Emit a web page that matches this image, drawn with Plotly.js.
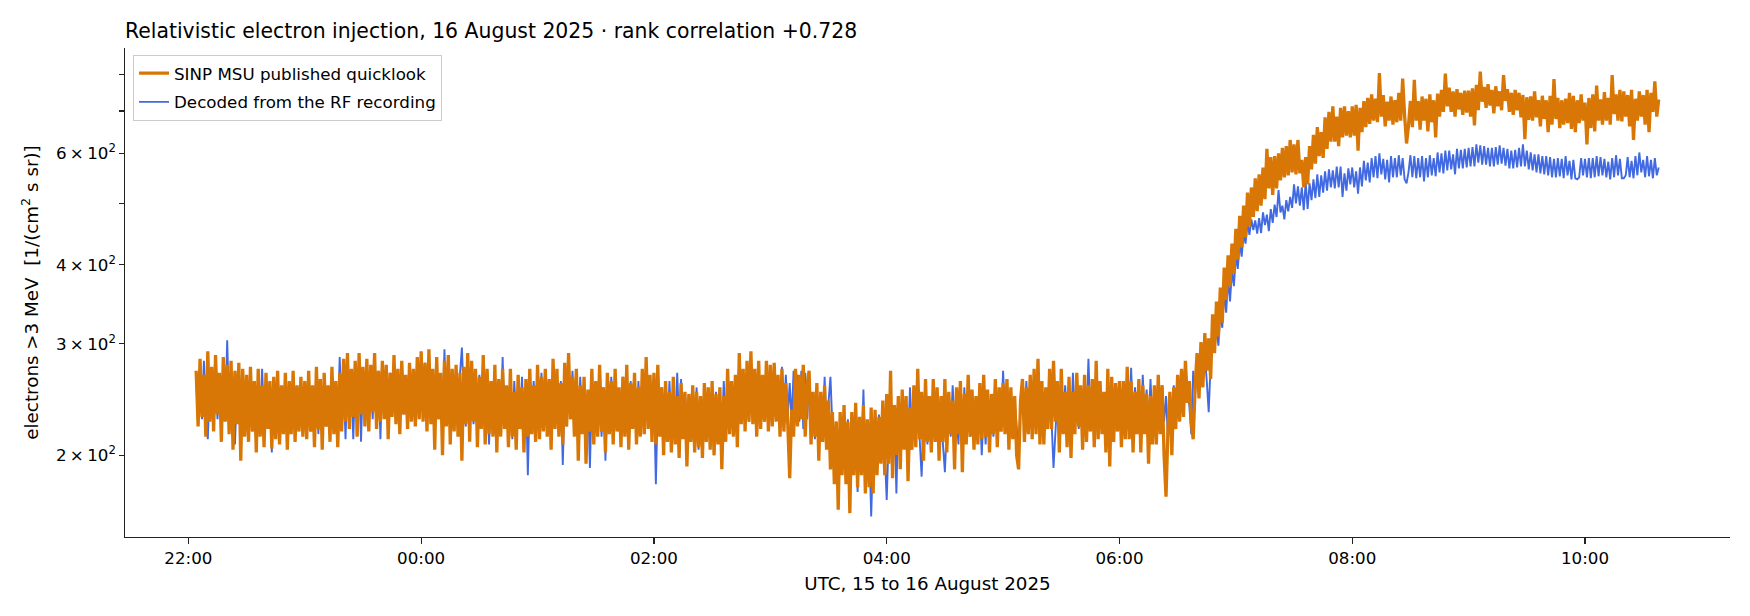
<!DOCTYPE html>
<html><head><meta charset="utf-8">
<script src="https://cdn.plot.ly/plotly-3.0.1.min.js"></script>
<style>html,body{margin:0;padding:0;background:#fff}#chart{width:1750px;height:616px}</style>
</head><body><div id="chart"></div>
<script>
// Sampling grid (UTC): one sample per minute, 22:04 .. 10:38
const startUTC = '2025-08-15T22:04:00Z';
const stepMinutes = 1;

// SINP MSU published quicklook, electrons >3 MeV
const sinpQuicklook = [
  272,222,284,230,268,214,292,226,276,218,288,232,270,210,286,226,278,216,282,204,272,224,280,196,274,214,
  268,210,276,218,262,202,274,214,258,206,270,220,262,205,266,212,272,208,258,216,270,204,262,216,272,210,258,218,266,214,
  262,212,272,218,258,206,276,220,264,204,270,222,258,210,276,216,262,206,270,218,
  284,226,290,220,274,230,282,214,290,232,276,222,284,218,278,234,290,220,272,226,282,228,278,212,270,230,288,224,274,216,282,232,268,220,280,226,274,222,286,228,
  292,226,280,218,294,224,274,204,286,228,270,200,282,222,288,208,274,218,278,214,270,196,276,224,290,210,282,226,274,206,266,220,288,208,274,216,262,214,278,202,
  264,214,274,220,258,206,274,214,252,204,268,220,256,202,264,214,274,216,258,210,
  278,212,266,218,274,214,264,204,284,220,274,214,260,208,280,222,290,228,266,214,274,196,258,216,266,194,254,218,274,208,
  262,214,278,218,256,202,270,216,262,208,274,218,256,206,266,214,278,204,260,220,270,208,256,214,274,216,286,220,268,210,
  270,208,278,214,256,200,262,210,252,202,266,208,248,198,260,212,252,192,250,210,258,202,252,206,248,198,260,210,256,204,
  262,200,250,208,256,190,248,210,274,216,262,214,268,206,290,224,274,218,282,226,292,224,274,214,282,220,268,226,282,218,
  278,222,280,226,268,214,274,218,260,224,184,236,214,274,222,268,228,278,214,258,272,208,252,214,260,196,252,210,258,204,
  244,190,234,180,226,164,234,186,240,180,226,162,234,186,242,178,230,186,240,174,228,178,238,174,236,186,230,194,244,186,
  250,194,272,184,240,200,248,190,254,204,248,182,238,204,258,206,274,212,252,196,264,210,248,202,264,210,256,196,248,210,
  264,202,252,216,244,190,256,216,262,188,250,208,268,214,254,204,248,208,260,212,268,214,254,202,250,216,264,206,256,218,
  260,216,264,204,256,212,248,200,190,244,264,210,256,216,268,212,274,216,284,208,262,208,256,220,274,220,282,226,262,202,
  274,216,252,206,266,198,252,216,270,222,258,204,268,210,258,218,264,206,282,212,262,216,252,202,274,192,266,210,260,218,
  262,206,262,212,276,212,262,202,252,216,264,202,258,216,250,194,248,208,258,208,268,216,258,200,172,220,252,200,256,220,
  268,226,274,230,282,242,262,226,212,256,290,246,302,256,312,272,306,264,334,290,350,308,368,324,396,352,414,370,432,388,
  456,408,478,426,496,442,520,460,530,476,548,486,556,496,570,508,610,528,592,516,594,528,600,544,612,550,616,554,630,560,
  620,556,630,558,586,530,592,536,616,566,642,578,660,594,648,590,684,610,698,626,712,626,686,616,708,636,712,640,700,636,
  712,640,716,606,708,648,726,660,734,668,744,676,732,672,804,686,742,662,724,676,738,666,728,672,748,676,788,688,622,664,
  726,660,784,676,726,654,738,676,732,650,744,672,728,636,746,686,756,698,802,712,762,698,752,686,758,704,748,690,754,696,
  754,686,760,664,770,702,808,724,764,708,772,714,756,694,766,712,752,702,798,726,758,698,748,690,756,702,748,684,742,632,
  736,678,738,676,752,684,728,662,740,680,728,648,740,666,786,680,734,658,728,666,732,670,748,656,740,648,728,670,744,676,
  722,620,734,658,744,650,768,676,730,666,750,676,734,666,798,692,744,676,756,674,752,686,742,662,756,630,732,676,752,686,
  742,666,756,648,748,698,780,686,730
];

// Decoded from the RF recording (same grid)
const decodedRF = [
  262,230,266,228,282,234,212,258,264,232,268,228,262,226,270,230,304,234,264,226,208,254,266,228,262,232,
  254,222,260,218,252,226,258,220,274,224,252,222,258,202,256,220,262,218,250,224,256,216,250,222,258,220,252,224,256,226,
  256,220,260,218,252,224,262,216,256,226,260,222,252,226,264,222,258,228,286,232,266,212,268,230,262,212,270,232,266,210,
  270,232,276,236,266,228,270,226,272,212,272,234,264,228,270,232,274,236,268,228,276,232,262,222,268,230,264,226,270,236,
  270,230,280,234,262,226,270,232,276,228,268,228,294,232,266,226,272,228,276,232,268,296,246,222,268,228,262,224,268,226,
  268,226,260,224,264,208,258,226,268,222,262,224,286,226,256,218,254,212,262,226,256,222,266,214,258,186,250,224,262,228,
  262,218,270,226,272,222,262,212,264,226,254,222,262,193,252,222,266,228,272,230,256,218,266,226,256,220,252,191,252,224,
  262,224,256,214,256,196,250,222,266,226,262,226,254,222,266,226,254,218,262,228,252,216,262,226,254,220,260,222,254,216,
  250,180,244,218,256,214,250,216,262,220,252,216,270,222,264,216,250,212,248,210,244,218,256,204,248,214,244,210,250,218,
  244,200,252,218,248,212,262,222,244,218,256,224,262,226,286,230,266,224,262,226,278,230,262,224,268,228,262,226,268,230,
  268,232,268,228,262,230,276,226,268,230,260,226,272,234,268,226,272,220,270,228,262,220,250,212,244,214,250,218,266,214,
  242,266,222,194,226,182,220,192,226,196,228,190,222,200,226,175,222,196,254,196,226,210,160,202,220,188,232,196,226,202,
  170,212,232,204,230,174,234,204,238,210,240,208,256,214,236,216,240,212,185,224,236,208,248,218,240,214,252,218,240,208,
  188,222,242,214,258,224,232,208,256,190,256,220,248,214,240,208,244,218,240,200,236,208,250,218,244,214,238,216,244,220,
  272,230,260,220,250,214,242,222,200,240,252,226,262,222,246,216,252,228,258,226,254,224,250,228,260,226,191,218,246,224,
  254,222,258,226,264,218,270,226,252,220,248,214,256,228,284,232,242,216,256,224,258,220,250,224,252,210,248,220,244,226,
  250,218,252,224,248,226,275,228,256,228,248,216,268,228,254,222,264,226,250,220,246,220,258,226,248,212,248,228,258,230,
  262,238,273,246,278,250,240,216,272,250,276,278,296,272,288,262,234,280,308,292,320,298,338,318,362,336,380,350,392,370,
  414,394,434,412,448,432,466,446,472,454,470,448,474,449,484,462,480,452,490,466,498,476,525,484,496,472,506,486,512,492,
  536,500,532,496,530,488,540,490,538,506,546,510,556,512,554,520,562,524,566,530,564,528,572,530,572,512,558,524,568,536,
  570,530,562,518,570,532,584,544,580,540,590,550,594,548,600,556,588,546,586,540,594,550,590,550,596,554,590,546,538,560,
  596,550,594,548,590,550,594,542,590,550,596,554,590,552,602,560,600,558,606,564,606,566,598,556,610,568,608,568,610,570,
  612,572,614,572,620,580,618,576,616,576,612,572,612,572,614,576,618,578,612,574,610,568,606,568,608,570,612,572,620,572,
  606,566,602,564,598,560,598,558,594,556,594,554,592,550,588,550,590,552,588,548,594,554,584,546,586,548,546,550,590,554,
  588,550,590,548,590,550,594,552,592,554,588,550,582,546,590,550,596,554,588,548,548,554,592,550,584,548,594,554,602,560,
  586,550,594,552,586,548,590,554,570
];

const seriesNames = ['SINP MSU published quicklook', 'Decoded from the RF recording'];
const yTickVals = [200, 300, 400, 500, 600, 700, 800];
const yTickText = ['2\u2009\u00d7\u200910<sup>2</sup>', '3\u2009\u00d7\u200910<sup>2</sup>', '4\u2009\u00d7\u200910<sup>2</sup>', '',
                   '6\u2009\u00d7\u200910<sup>2</sup>', '', ''];

const t0 = Date.parse(startUTC);
const timesFor = arr => arr.map((_, i) =>
  new Date(t0 + i * stepMinutes * 60000).toISOString().slice(0, 19).replace('T', ' '));

const FONT = 'DejaVu Sans, Liberation Sans, sans-serif';

const traces = [
  {x: timesFor(decodedRF), y: decodedRF, type: 'scatter', mode: 'lines', name: seriesNames[1],
   legendgroup: 'b', legendrank: 2,
   line: {color: '#4169e1', width: 1.9, simplify: false}, hoverinfo: 'skip'},
  {x: timesFor(sinpQuicklook), y: sinpQuicklook, type: 'scatter', mode: 'lines', name: seriesNames[0],
   legendgroup: 'a', legendrank: 1,
   line: {color: '#d97706', width: 3.3, simplify: false}, hoverinfo: 'skip'}
];

const layout = {
  width: 1750, height: 616,
  paper_bgcolor: '#ffffff', plot_bgcolor: '#ffffff',
  margin: {l: 125, r: 20, t: 48, b: 79, pad: 0},
  font: {family: FONT, color: '#000000', size: 16.7},
  title: {text: 'Relativistic electron injection, 16 August 2025 \u00b7 rank correlation +0.728',
          x: 125 / 1750, xref: 'container', xanchor: 'left',
          y: 1 - 31 / 616, yref: 'container', yanchor: 'middle',
          font: {family: FONT, size: 20.4, color: '#000000'}},
  xaxis: {
    type: 'date',
    range: ['2025-08-15 21:27:19', '2025-08-16 11:14:45'],
    tick0: '2025-08-15 22:00:00', dtick: 7200000, tickformat: '%H:%M',
    ticks: 'outside', ticklen: 6, tickwidth: 1.3, tickcolor: '#222',
    showline: true, linecolor: '#222', linewidth: 1.3, mirror: false,
    showgrid: false, zeroline: false, automargin: false,
    tickfont: {family: FONT, size: 16.7, color: '#000'},
    title: {text: 'UTC, 15 to 16 August 2025', standoff: 10, font: {family: FONT, size: 18.3, color: '#000'}}
  },
  yaxis: {
    type: 'log',
    range: [2.1718, 2.9447],
    tickmode: 'array', tickvals: yTickVals, ticktext: yTickText,
    ticks: 'outside', ticklen: 4.5, tickwidth: 1.1, tickcolor: '#222',
    showline: true, linecolor: '#222', linewidth: 1.3, mirror: false,
    showgrid: false, zeroline: false, automargin: false,
    tickfont: {family: FONT, size: 16.7, color: '#000'},
    title: {text: 'electrons >3 MeV \u00a0[1/(cm<sup>2</sup> s sr)]', standoff: 12,
            font: {family: FONT, size: 18.3, color: '#000'}}
  },
  showlegend: true,
  legend: {x: 0.005, y: 0.986, xanchor: 'left', yanchor: 'top',
           bgcolor: 'rgba(255,255,255,0.8)', bordercolor: '#cccccc', borderwidth: 1,
           font: {family: FONT, size: 16.7, color: '#000'},
           traceorder: 'grouped', tracegroupgap: 4}
};

Plotly.newPlot('chart', traces, layout, {staticPlot: true, displayModeBar: false});
</script>
</body></html>
